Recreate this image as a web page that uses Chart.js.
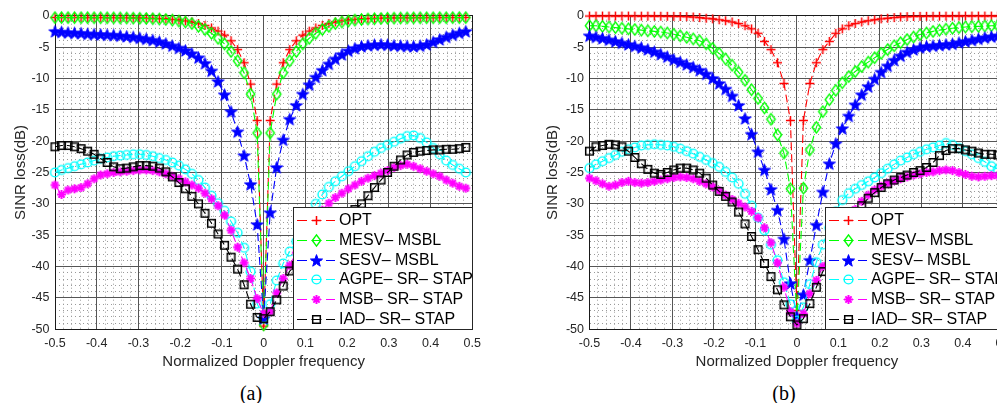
<!DOCTYPE html>
<html><head><meta charset="utf-8">
<script src="https://cdn.jsdelivr.net/npm/chart.js@4.4.1/dist/chart.umd.min.js"></script>
<style>
html,body{margin:0;padding:0;background:#fff;overflow:hidden;}
#wrap{position:relative;width:997px;height:403px;overflow:hidden;background:#fff;}
.pane{position:absolute;top:0;}
.cap{position:absolute;top:381px;line-height:24px;font-family:"Liberation Serif","Times New Roman",serif;font-size:20px;color:#000;transform:translateX(-50%);white-space:nowrap;}
</style></head><body>
<div id="wrap">
  <div class="pane" style="left:0;width:490px;height:372px"><canvas id="ca" width="490" height="372"></canvas></div>
  <div class="pane" style="left:500px;width:520px;height:372px"><canvas id="cb" width="520" height="372"></canvas></div>
  <div class="cap" style="left:251px">(a)</div>
  <div class="cap" style="left:784px">(b)</div>
</div>
<script>
// ---------------- data ----------------
const freq = [-0.5,-0.484375,-0.46875,-0.453125,-0.4375,-0.421875,-0.40625,-0.390625,-0.375,-0.359375,-0.34375,-0.328125,-0.3125,-0.296875,-0.28125,-0.265625,-0.25,-0.234375,-0.21875,-0.203125,-0.1875,-0.171875,-0.15625,-0.140625,-0.125,-0.109375,-0.09375,-0.078125,-0.0625,-0.046875,-0.03125,-0.015625,0,0.015625,0.03125,0.046875,0.0625,0.078125,0.09375,0.109375,0.125,0.140625,0.15625,0.171875,0.1875,0.203125,0.21875,0.234375,0.25,0.265625,0.28125,0.296875,0.3125,0.328125,0.34375,0.359375,0.375,0.390625,0.40625,0.421875,0.4375,0.453125,0.46875,0.484375];
const xTickLabels = ['-0.5','-0.4','-0.3','-0.2','-0.1','0','0.1','0.2','0.3','0.4','0.5'];
const yTickLabels = ['-50','-45','-40','-35','-30','-25','-20','-15','-10','-5','0'];
const seriesNames = ['OPT','MESV\u2013 MSBL','SESV\u2013 MSBL','AGPE\u2013 SR\u2013 STAP','MSB\u2013 SR\u2013 STAP','IAD\u2013 SR\u2013 STAP'];
const xTitle = 'Normalized Doppler frequency';
const yTitle = 'SINR loss(dB)';

// panel (a)
const optA = [-0.28,-0.28,-0.29,-0.29,-0.29,-0.30,-0.30,-0.30,-0.31,-0.31,-0.32,-0.33,-0.34,
 -0.36,-0.38,-0.41,-0.45,-0.50,-0.58,-0.68,-0.82,-1.00,-1.25,-1.55,-1.95,-2.45,-3.10,-4.00,-5.40,-7.50,-10.9,-16.7,-49.5,
 -16.7,-10.9,-7.50,-5.40,-4.00,-3.10,-2.45,-1.95,-1.55,-1.25,-1.00,-0.82,-0.68,-0.58,-0.50,-0.45,-0.41,-0.38,-0.36,-0.34,-0.33,-0.32,-0.31,-0.31,-0.30,-0.30,-0.30,-0.29,-0.29,-0.29,-0.28];
const mesvA = [-0.30,-0.30,-0.31,-0.31,-0.32,-0.32,-0.33,-0.33,-0.34,-0.35,-0.36,-0.37,-0.39,-0.41,-0.44,-0.48,
 -0.53,-0.60,-0.70,-0.85,-1.00,-1.25,-1.70,-2.20,-2.80,-3.60,-4.50,-5.70,-7.20,-9.10,-12.5,-18.7,-49.3,
 -18.7,-12.5,-9.10,-7.20,-5.70,-4.50,-3.60,-2.80,-2.20,-1.70,-1.25,-1.00,-0.85,-0.70,-0.60,-0.53,-0.48,-0.44,-0.41,-0.39,-0.37,-0.36,-0.35,-0.34,-0.33,-0.33,-0.32,-0.32,-0.31,-0.31,-0.30];
const sesvA = [-2.50,-2.60,-2.70,-2.75,-2.80,-2.90,-2.95,-3.00,-3.05,-3.10,-3.20,-3.30,-3.40,-3.55,-3.70,-3.90,-4.15,-4.45,-4.80,-5.15,-5.55,-6.05,-6.70,-7.60,-8.80,-10.5,-12.6,-15.3,-18.5,-22.3,-26.9,-33.3,-48.3,
 -31.4,-24.2,-19.8,-16.5,-14.3,-12.5,-11.0,-9.80,-8.70,-7.70,-6.90,-6.20,-5.60,-5.20,-4.90,-4.75,-4.65,-4.60,-4.65,-4.75,-4.80,-4.85,-4.90,-4.80,-4.60,-4.20,-3.80,-3.40,-3.05,-2.75,-2.50];
const agpeA = [-25.0,-24.6,-24.3,-24.0,-23.7,-23.4,-23.1,-22.8,-22.6,-22.4,-22.3,-22.2,-22.1,-22.1,-22.2,-22.4,-22.7,-23.0,-23.4,-23.9,-24.5,-25.2,-26.2,-27.4,-28.7,-29.9,-31.1,-32.8,-34.6,-37.0,-40.8,-45.9,-48.2,
 -46.0,-42.2,-39.5,-37.6,-36.0,-33.9,-31.8,-30.0,-28.5,-27.3,-26.4,-25.6,-24.8,-24.0,-23.2,-22.4,-21.7,-21.1,-20.6,-20.1,-19.6,-19.2,-19.1,-19.5,-20.2,-21.1,-22.1,-23.1,-23.8,-24.4,-25.0];
const msbA = [-27.0,-28.5,-27.8,-27.6,-27.4,-26.8,-26.0,-25.4,-25.2,-25.0,-24.9,-24.8,-24.7,-24.6,-24.6,-24.7,-24.9,-25.2,-25.6,-26.0,-26.5,-27.0,-27.5,-28.3,-29.2,-30.3,-31.8,-34.2,-36.9,-39.4,-41.9,-45.1,-47.5,
 -47.2,-44.2,-41.9,-39.8,-37.8,-35.9,-34.0,-32.3,-31.0,-29.9,-29.0,-28.3,-27.6,-27.0,-26.4,-25.9,-25.5,-25.1,-24.7,-24.2,-23.9,-23.7,-24.0,-24.4,-24.8,-25.2,-25.6,-26.2,-26.7,-27.2,-27.5];
const iadA = [-20.9,-20.7,-20.7,-20.9,-21.2,-21.6,-22.1,-22.8,-23.4,-24.1,-24.4,-24.3,-24.1,-23.9,-23.9,-24.0,-24.3,-24.9,-25.7,-26.6,-27.6,-28.8,-30.0,-31.5,-33.1,-34.8,-36.6,-38.5,-40.4,-42.9,-46.0,-48.1,-48.3,
 -47.2,-45.3,-43.1,-40.7,-39.8,-38.8,-37.9,-36.7,-35.8,-34.6,-33.7,-32.5,-31.6,-30.9,-30.0,-28.7,-27.4,-26.2,-25.0,-24.0,-23.0,-22.2,-21.8,-21.6,-21.5,-21.4,-21.4,-21.3,-21.3,-21.2,-21.0];

// panel (b)
const optB = [-0.05,-0.05,-0.05,-0.05,-0.05,-0.05,-0.05,-0.06,-0.06,-0.06,-0.07,-0.08,-0.09,-0.10,-0.12,
 -0.15,-0.20,-0.30,-0.40,-0.50,-0.65,-0.80,-1.00,-1.25,-1.60,-2.10,-2.80,-4.10,-5.40,-7.50,-10.8,-16.7,-47.0,
 -16.7,-10.8,-7.50,-5.40,-4.10,-2.80,-2.10,-1.60,-1.25,-1.00,-0.80,-0.65,-0.50,-0.40,-0.30,-0.20,-0.15,-0.12,-0.10,-0.09,-0.08,-0.07,-0.06,-0.06,-0.06,-0.05,-0.05,-0.05,-0.05,-0.05,-0.05];
const mesvB = [-1.60,-1.60,-1.70,-1.80,-1.90,-2.00,-2.10,-2.20,-2.30,-2.40,-2.50,-2.60,-2.75,-2.95,-3.20,-3.45,-3.70,-4.00,-4.50,-5.20,-6.00,-6.90,-7.90,-9.00,-10.3,-11.8,-13.2,-14.7,-16.5,-19.0,-21.9,-27.6,-48.5,
 -27.5,-21.4,-17.8,-15.3,-13.4,-11.9,-10.7,-9.70,-8.90,-8.10,-7.40,-6.70,-6.00,-5.40,-4.80,-4.30,-3.80,-3.40,-3.00,-2.75,-2.50,-2.30,-2.15,-2.00,-1.90,-1.80,-1.75,-1.70,-1.65,-1.60,-1.60];
const sesvB = [-3.20,-3.40,-3.60,-3.85,-4.10,-4.35,-4.60,-4.85,-5.10,-5.40,-5.75,-6.15,-6.55,-7.00,-7.40,-7.80,-8.20,-8.70,-9.30,-10.0,-10.8,-11.7,-12.8,-14.3,-16.4,-18.9,-21.7,-24.6,-27.7,-31.0,-35.6,-42.7,-48.0,
 -44.5,-39.0,-33.4,-28.1,-23.6,-20.4,-18.0,-16.0,-14.2,-12.6,-11.3,-10.1,-9.00,-8.00,-7.10,-6.40,-5.80,-5.40,-5.10,-4.90,-4.80,-4.70,-4.60,-4.50,-4.30,-4.10,-3.90,-3.70,-3.50,-3.35,-3.20];
const agpeB = [-24.3,-23.7,-23.2,-22.7,-22.2,-21.7,-21.3,-21.0,-20.7,-20.6,-20.5,-20.6,-20.7,-20.9,-21.2,-21.6,-22.0,-22.5,-23.0,-23.5,-24.1,-24.9,-25.8,-26.8,-28.4,-30.3,-32.2,-34.2,-36.5,-39.0,-42.5,-46.0,-48.6,
 -46.5,-42.8,-39.3,-36.5,-33.8,-31.2,-29.4,-28.3,-27.6,-27.0,-26.4,-25.8,-25.1,-24.4,-23.7,-23.1,-22.6,-22.1,-21.7,-21.3,-21.0,-20.7,-20.3,-20.6,-21.1,-21.6,-22.1,-22.7,-23.3,-24.0,-24.5];
const msbB = [-25.9,-26.3,-26.8,-27.2,-27.0,-26.6,-26.4,-26.6,-26.7,-26.6,-26.4,-26.2,-26.0,-25.8,-25.7,-25.8,-26.0,-26.4,-26.8,-27.3,-27.9,-28.6,-29.3,-29.9,-30.5,-31.2,-32.2,-33.8,-36.2,-39.4,-43.3,-47.2,-49.1,
 -47.5,-44.3,-42.2,-40.0,-38.0,-36.1,-34.1,-32.4,-30.9,-29.6,-28.6,-27.8,-27.2,-26.7,-26.3,-26.0,-25.7,-25.4,-25.2,-25.0,-24.9,-24.7,-24.6,-24.7,-25.0,-25.3,-25.6,-25.7,-25.6,-25.5,-25.5];
const iadB = [-21.6,-20.9,-20.7,-20.5,-20.6,-20.9,-21.6,-22.6,-23.6,-24.5,-25.1,-25.3,-25.0,-24.6,-24.3,-24.3,-24.6,-25.1,-25.9,-27.0,-28.0,-28.8,-29.7,-31.3,-33.2,-35.2,-37.3,-39.5,-41.6,-43.7,-46.1,-48.0,-49.3,
 -48.3,-45.9,-43.3,-40.8,-39.1,-37.1,-35.5,-33.4,-31.8,-30.3,-29.1,-28.2,-27.4,-26.8,-26.2,-25.8,-25.4,-25.0,-24.7,-24.2,-23.4,-22.3,-21.5,-21.2,-21.2,-21.4,-21.6,-21.9,-22.1,-22.1,-22.2];

// ---------------- style ----------------
const colors = ['#ff0000','#00ff00','#0000ff','#00ffff','#ff00ff','#000000'];
const markerTypes = ['plus','diamond','pentagram','circle','asterisk','square'];
const FONT = '"Liberation Sans", Arial, Helvetica, sans-serif';
const TXT = '#262626';

function makeMarker(type, color){
  const c = document.createElement('canvas'); c.width = 17; c.height = 17;
  const g = c.getContext('2d'); const m = 8.5;
  g.strokeStyle = color; g.fillStyle = color; g.lineWidth = 1.4;
  g.beginPath();
  if (type === 'plus') { g.lineWidth = 1.5; g.moveTo(m-4.5, m); g.lineTo(m+4.5, m); g.moveTo(m, m-4.5); g.lineTo(m, m+4.5); g.stroke(); }
  else if (type === 'diamond') { g.moveTo(m, m-5.6); g.lineTo(m+4.2, m); g.lineTo(m, m+5.6); g.lineTo(m-4.2, m); g.closePath(); g.stroke(); }
  else if (type === 'pentagram') {
    for (let i = 0; i < 10; i++) { const r = i % 2 === 0 ? 6.4 : 2.6; const a = -Math.PI/2 + i*Math.PI/5;
      const px = m + r*Math.cos(a), py = m + 0.5 + r*Math.sin(a); if (i) g.lineTo(px, py); else g.moveTo(px, py); }
    g.closePath(); g.fill(); g.lineWidth = 1; g.stroke();
  }
  else if (type === 'circle') { g.arc(m, m, 4.4, 0, Math.PI*2); g.stroke(); }
  else if (type === 'asterisk') { g.lineWidth = 2; for (let i = 0; i < 4; i++) { const a = i*Math.PI/4;
      g.moveTo(m-4.4*Math.cos(a), m-4.4*Math.sin(a)); g.lineTo(m+4.4*Math.cos(a), m+4.4*Math.sin(a)); } g.stroke(); }
  else if (type === 'square') { g.lineWidth = 1.5; g.rect(m-3.8, m-3.8, 7.6, 7.6); g.stroke(); }
  return c;
}
const markers = markerTypes.map((t, i) => makeMarker(t, colors[i]));

const al = v => Math.round(v - 0.5) + 0.5;
const boxPlugin = {
  id: 'mlBox',
  beforeDatasetsDraw(chart) {
    const a = chart.chartArea, ctx = chart.ctx;
    ctx.save(); ctx.strokeStyle = '#1a1a1a'; ctx.lineWidth = 1; ctx.setLineDash([]);
    const l = al(a.left), t = al(a.top), r = al(a.right), b = al(a.bottom);
    ctx.strokeRect(l, t, r - l, b - t);
    ctx.restore();
  }
};
const legendPlugin = {
  id: 'mlLegend',
  afterDatasetsDraw(chart) {
    const a = chart.chartArea, ctx = chart.ctx;
    const w = 179.3, h = 122;
    const x0 = a.right - w, y0 = a.bottom - h;
    ctx.save();
    ctx.fillStyle = '#fff'; ctx.fillRect(x0, y0, w, h);
    ctx.strokeStyle = '#262626'; ctx.lineWidth = 1; ctx.setLineDash([]);
    const l = al(x0), t = al(y0), r = al(a.right), b = al(a.bottom);
    ctx.strokeRect(l, t, r - l, b - t);
    chart.data.datasets.forEach((ds, i) => {
      const cy = Math.round(y0 + 13 + i*19.7) + 0.5;
      ctx.strokeStyle = ds.borderColor; ctx.lineWidth = 1.2; ctx.setLineDash([10, 4.5]);
      ctx.beginPath(); ctx.moveTo(x0 + 4, cy); ctx.lineTo(x0 + 42, cy); ctx.stroke();
      ctx.setLineDash([]);
      const mk = ds.pointStyle;
      ctx.drawImage(mk, Math.round(x0 + 23.5 - mk.width/2), Math.round(cy - mk.height/2));
      ctx.fillStyle = '#000'; ctx.font = '16px ' + FONT; ctx.textBaseline = 'middle'; ctx.textAlign = 'left';
      ctx.fillText(ds.label, x0 + 46, cy + 0.5);
    });
    ctx.restore();
  }
};

function build(id, series, cfg) {
  const datasets = series.map((vals, i) => ({
    label: seriesNames[i],
    data: freq.map((f, k) => ({x: f, y: vals[k]})),
    borderColor: colors[i], backgroundColor: colors[i],
    borderWidth: 1.1, borderDash: [8, 4],
    pointStyle: markers[i], pointRadius: 4, pointHoverRadius: 4,
    fill: false, tension: 0, clip: false, order: 6 - i
  }));
  const minorGrid = {color: '#9a9a9a', lineWidth: 1, drawTicks: false, borderDash: [1, 3]};
  new Chart(document.getElementById(id), {
    type: 'line',
    data: {datasets},
    options: {
      responsive: false, animation: false, devicePixelRatio: 1, events: [],
      layout: {padding: {left: cfg.padL, right: cfg.padR, top: 15.7, bottom: 0}},
      plugins: {legend: {display: false}, tooltip: {enabled: false}},
      scales: {
        xm: {type: 'linear', axis: 'x', position: 'bottom', min: -0.5, max: 0.5,
             ticks: {display: false, stepSize: 0.02}, grid: minorGrid, border: {display: false, dash: [1, 3]},
             afterFit: s => { s.height = 0; }},
        ym: {type: 'linear', axis: 'y', position: 'left', min: -50, max: 0,
             ticks: {display: false, stepSize: 1}, grid: minorGrid, border: {display: false, dash: [1, 3]},
             afterFit: s => { s.width = 0; }},
        x: {type: 'linear', position: 'bottom', min: -0.5, max: 0.5,
            ticks: {stepSize: 0.1, autoSkip: false, maxRotation: 0, padding: 7, color: TXT,
                    font: {family: FONT, size: 12.5}, callback: (v, i) => xTickLabels[i]},
            grid: {color: '#555555', lineWidth: 1, drawTicks: false}, border: {display: false},
            title: {display: true, text: xTitle, color: TXT, font: {family: FONT, size: 15}, padding: {top: 0, bottom: 1}},
            afterFit: s => { s.height = 372 - 329.3; }},
        y: {type: 'linear', position: 'left', min: -50, max: 0,
            ticks: {stepSize: 5, padding: 5.5, color: TXT, font: {family: FONT, size: 12.5},
                    callback: (v, i) => yTickLabels[i]},
            grid: {color: '#555555', lineWidth: 1, drawTicks: false}, border: {display: false},
            title: {display: true, text: yTitle, color: TXT, font: {family: FONT, size: 15}, padding: {top: cfg.yTitlePad, bottom: 0}},
            afterFit: s => { s.width = 55; }}
      }
    },
    plugins: [boxPlugin, legendPlugin]
  });
}

build('ca', [optA, mesvA, sesvA, agpeA, msbA, iadA], {padL: 0, padR: 490 - 472.3, yTitlePad: 11.5});
build('cb', [optB, mesvB, sesvB, agpeB, msbB, iadB], {padL: 34.5, padR: 520 - 506.8, yTitlePad: 9.8});
</script>
</body></html>
